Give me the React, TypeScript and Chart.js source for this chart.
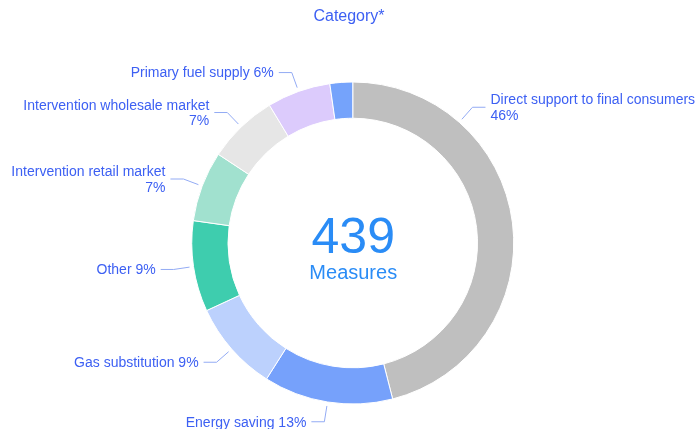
import React, { useEffect, useRef } from "react";
import { Chart, registerables } from "chart.js";

Chart.register(...registerables);

const categories = [
  "Direct support to final consumers",
  "Energy saving",
  "Gas substitution",
  "Other",
  "Intervention retail market",
  "Intervention wholesale market",
  "Primary fuel supply",
  "Not specified",
];
const measureCounts = [202, 57, 40, 40, 31, 31, 28, 10];
const titleText = "Category*";
const centerCaption = "Measures";

const sliceColors = [
  "#bfbfbf",
  "#76a1fb",
  "#bcd1fd",
  "#3ecdae",
  "#a1e1cf",
  "#e6e6e6",
  "#dccbfc",
  "#75a3fb",
];
// label wraps the percentage on a second line
const wrapLabel = [true, false, false, false, true, true, false, false];
// where along the slice the leader line starts (0..1)
const anchorFraction = [0.25, 0.5, 0.5, 0.5, 0.5, 0.5, 0.5, 0.5];

const FONT = '"Liberation Sans", Arial, sans-serif';
const TEXT_COLOR = "#3d60f3";
const LINE_COLOR = "#93abf4";
const CENTER_COLOR = "#2a8cf6";

const total = measureCounts.reduce((a, b) => a + b, 0);

const labelPlugin = {
  id: "outerLabels",
  afterDraw(chart: any) {
    const ctx = chart.ctx as CanvasRenderingContext2D;
    const meta = chart.getDatasetMeta(0);
    ctx.save();
    // title
    ctx.font = `16px ${FONT}`;
    ctx.fillStyle = TEXT_COLOR;
    ctx.textAlign = "center";
    ctx.textBaseline = "alphabetic";
    ctx.fillText(titleText, 349, 21);

    let cx = 0;
    let cy = 0;
    meta.data.forEach((arc: any, i: number) => {
      const value = measureCounts[i];
      const pct = (value / total) * 100;
      cx = arc.x;
      cy = arc.y;
      if (pct < 3) return;
      const a = arc.startAngle + (arc.endAngle - arc.startAngle) * anchorFraction[i];
      const r = arc.outerRadius;
      const dx = Math.cos(a);
      const dy = Math.sin(a);
      const p0x = arc.x + dx * (r + 4);
      const p0y = arc.y + dy * (r + 4);
      const p1x = arc.x + dx * (r + 20);
      const p1y = arc.y + dy * (r + 20);
      const side = dx >= 0 ? 1 : -1;
      const p2x = p1x + side * 13;
      ctx.strokeStyle = LINE_COLOR;
      ctx.lineWidth = 1;
      ctx.beginPath();
      ctx.moveTo(p0x, p0y);
      ctx.lineTo(p1x, p1y);
      ctx.lineTo(p2x, p1y);
      ctx.stroke();

      const pctText = `${Math.round(pct)}%`;
      const lines = wrapLabel[i]
        ? [categories[i], pctText]
        : [`${categories[i]} ${pctText}`];
      ctx.font = `14px ${FONT}`;
      ctx.fillStyle = TEXT_COLOR;
      ctx.textAlign = side > 0 ? "left" : "right";
      ctx.textBaseline = "middle";
      const lh = 15.5;
      const startY = p1y - ((lines.length - 1) * lh) / 2;
      lines.forEach((t, k) => {
        ctx.fillText(t, p2x + side * 5, startY + k * lh + 1);
      });
    });

    // center text
    ctx.fillStyle = CENTER_COLOR;
    ctx.textAlign = "center";
    ctx.textBaseline = "alphabetic";
    ctx.font = `50px ${FONT}`;
    ctx.fillText(String(total), cx + 0.5, 253);
    ctx.font = `20px ${FONT}`;
    ctx.fillText(centerCaption, cx + 0.5, 279);
    ctx.restore();
  },
};

export default function App() {
  const canvasRef = useRef<HTMLCanvasElement | null>(null);

  useEffect(() => {
    if (!canvasRef.current) return;
    const chart = new Chart(canvasRef.current, {
      type: "doughnut",
      data: {
        labels: categories,
        datasets: [
          {
            data: measureCounts,
            backgroundColor: sliceColors,
            borderColor: "#ffffff",
            borderWidth: 1,
            hoverOffset: 0,
          },
        ],
      },
      options: {
        animation: false,
        responsive: false,
        cutout: "77.5%",
        layout: {
          padding: { top: 81.5, bottom: 24.5, left: 191, right: 184.5 },
        },
        plugins: {
          legend: { display: false },
          tooltip: { enabled: false },
          title: { display: false },
        },
        events: [],
      },
      plugins: [labelPlugin],
    });
    return () => chart.destroy();
  }, []);

  return (
    <div style={{ position: "fixed", left: 0, top: 0, width: 699, height: 429, background: "#fff" }}>
      <canvas ref={canvasRef} width={699} height={429} style={{ width: 699, height: 429, display: "block" }} />
    </div>
  );
}
